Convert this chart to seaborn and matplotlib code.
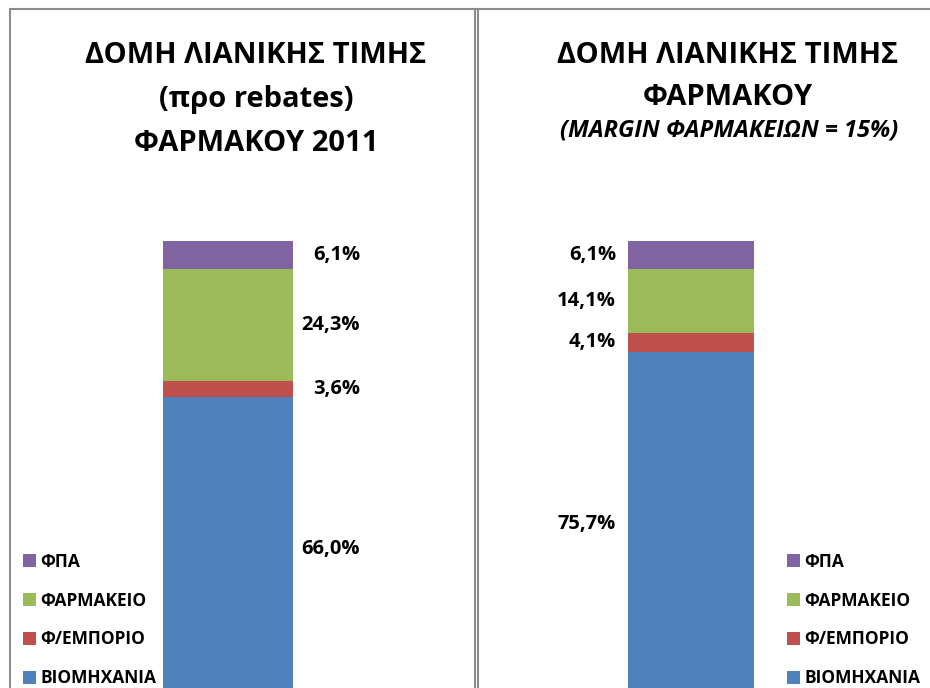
"""Retail price structure of medicines - two stacked bars"""

import pandas as pd
import seaborn as sns
import matplotlib.pyplot as plt
from matplotlib.patches import Patch
from matplotlib.lines import Line2D

# Components, bottom to top
components = ["ΒΙΟΜΗΧΑΝΙΑ", "Φ/ΕΜΠΟΡΙΟ", "ΦΑΡΜΑΚΕΙΟ", "ΦΠΑ"]
colors = ["#4F81BD", "#C0504D", "#9BBB59", "#8064A2"]

# Shares (%) for each chart
left_values = [66.0, 3.6, 24.3, 6.1]
right_values = [75.7, 4.1, 14.1, 6.1]

left_title = ["ΔΟΜΗ ΛΙΑΝΙΚΗΣ ΤΙΜΗΣ", "(προ rebates)", "ΦΑΡΜΑΚΟΥ 2011"]
right_title = ["ΔΟΜΗ ΛΙΑΝΙΚΗΣ ΤΙΜΗΣ", "ΦΑΡΜΑΚΟΥ"]
right_subtitle = "(MARGIN ΦΑΡΜΑΚΕΙΩΝ = 15%)"

sns.set_style("white")
plt.rcParams["font.family"] = ["Open Sans", "DejaVu Sans"]
plt.rcParams["text.color"] = "black"

W, H = 930, 688
fig = plt.figure(figsize=(W / 100, H / 100), dpi=100)


def px_box(x0, x1, y_top, y_bottom):
    """Axes rectangle from pixel coordinates (y from the top)."""
    return [x0 / W, (H - y_bottom) / H, (x1 - x0) / W, (y_bottom - y_top) / H]


def stacked_bar(ax, values, panel):
    df = pd.DataFrame({"component": components, "value": values})
    df["cum"] = df["value"].cumsum()
    df["mid"] = df["cum"] - df["value"] / 2
    df["panel"] = panel
    # draw cumulative bars from the top down so they look stacked
    for comp, col in reversed(list(zip(components, colors))):
        sns.barplot(data=df[df["component"] == comp], x="panel", y="cum",
                    color=col, saturation=1, width=0.6, linewidth=0, ax=ax)
    ax.set_ylim(0, 100)
    ax.set_axis_off()
    return df


# Left chart: bar 163-293 px, top at 241, 100% = 460 px
ax_l = fig.add_axes(px_box(10, 475, 241, 701))
df_l = stacked_bar(ax_l, left_values, "L")
ppu = 130 / 0.6
ax_l.set_xlim((10 - 228) / ppu, (475 - 228) / ppu)
for _, r in df_l.iterrows():
    ax_l.text((360 - 228) / ppu, r["mid"], f"{r['value']:.1f}%".replace(".", ","),
              ha="right", va="center", fontsize=14.5, fontweight="bold")

# Right chart: bar 628-754 px, top at 241, 100% = 455 px
ax_r = fig.add_axes(px_box(477, 930, 241, 696))
df_r = stacked_bar(ax_r, right_values, "R")
ppu = 126 / 0.6
ax_r.set_xlim((477 - 691) / ppu, (930 - 691) / ppu)
for _, r in df_r.iterrows():
    ax_r.text((616 - 691) / ppu, r["mid"], f"{r['value']:.1f}%".replace(".", ","),
              ha="right", va="center", fontsize=14.5, fontweight="bold")

# Titles
for i, line in enumerate(left_title):
    fig.text(256 / W, (H - (63 + 44 * i)) / H, line, ha="center", va="baseline",
             fontsize=21, fontweight="bold")
for i, line in enumerate(right_title):
    fig.text(728 / W, (H - (63 + 42 * i)) / H, line, ha="center", va="baseline",
             fontsize=21, fontweight="bold")
fig.text(729 / W, (H - 137) / H, right_subtitle, ha="center", va="baseline",
         fontsize=17, fontweight="bold", fontstyle="italic")

# Legends
handles = [Patch(facecolor=c, edgecolor="none") for c in reversed(colors)]
labels = list(reversed(components))
for x in (23, 787):
    fig.legend(handles, labels, loc="center left",
               bbox_to_anchor=(x / W, (H - 620) / H), frameon=False,
               borderpad=0, borderaxespad=0, handlelength=0.75, handleheight=0.75,
               handletextpad=0.25, labelspacing=1.2,
               prop={"size": 12.5, "weight": "bold"})

# Chart borders
border = dict(color="#8c8c8c", linewidth=1.5, transform=fig.transFigure)
fig.add_artist(Line2D([10 / W, 1], [(H - 9) / H] * 2, **border))
fig.add_artist(Line2D([10 / W] * 2, [0, (H - 9) / H], **border))
fig.add_artist(Line2D([475 / W] * 2, [0, (H - 9) / H], **border))
fig.add_artist(Line2D([477.5 / W] * 2, [0, (H - 9) / H], **border))

fig.savefig("out.png", dpi=100)
